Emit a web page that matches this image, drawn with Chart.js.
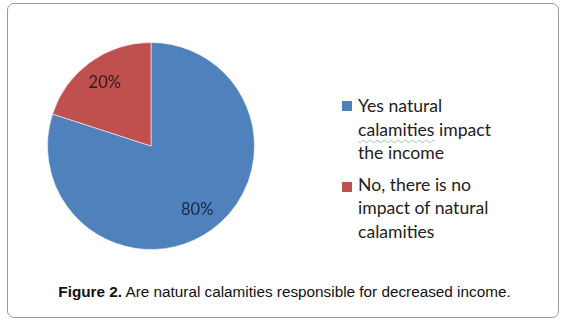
<!DOCTYPE html>
<html>
<head>
<meta charset="utf-8">
<script src="https://cdn.jsdelivr.net/npm/chart.js@4/dist/chart.umd.min.js"></script>
<style>
  html, body { margin: 0; padding: 0; background: #ffffff; }
  body { width: 564px; height: 324px; position: relative; overflow: hidden; }
  #frame { position: absolute; left: 7px; top: 3px; width: 552px; height: 315px;
           border: 1.5px solid #9a9a9a; border-radius: 7px; box-sizing: border-box; }
  #pieWrap { position: absolute; left: 43px; top: 38px; width: 216px; height: 216px; }
  #legend { position: absolute; left: 342px; top: 0; font-family: Lato, "Open Sans", sans-serif;
            font-size: 17.6px; color: #222; }
  .item { position: absolute; left: 0; white-space: nowrap; }
  .sw { position: absolute; left: 0; width: 10px; height: 10px; }
  .txt { position: absolute; left: 16px; line-height: 23.5px; }
  .squig { text-decoration: underline wavy #9cc79c; text-decoration-thickness: 1px; text-underline-offset: 3px; }
  #caption { position: absolute; left: 8px; width: 553px; top: 283px; text-align: center;
             font-family: "Liberation Sans", Arial, sans-serif; font-size: 15.3px; line-height: 17px; color: #111; }
</style>
</head>
<body>
<div id="frame"></div>
<div id="pieWrap"><canvas id="pie" width="216" height="216"></canvas></div>
<div id="legend"></div>
<div id="caption"><b>Figure 2.</b> Are natural calamities responsible for decreased income.</div>
<script>
// ---- data ----
const categories = [
  ["Yes natural", "calamities impact", "the income"],
  ["No, there is no", "impact of natural", "calamities"]
];
const values = [80, 20];
const sliceColors = ["#4f81bd", "#c0504d"];
const labelColors = ["#1b2a44", "#2a1c1c"];
const spellFlag = { item: 0, line: 1, word: "calamities" };

// ---- pie ----
const pctLabels = {
  id: 'pctLabels',
  afterDatasetsDraw(chart) {
    const ctx = chart.ctx;
    const meta = chart.getDatasetMeta(0);
    const total = values.reduce((a, b) => a + b, 0);
    ctx.save();
    ctx.font = '16.5px Lato, "Open Sans", sans-serif';
    ctx.textAlign = 'center';
    ctx.textBaseline = 'middle';
    meta.data.forEach((arc, i) => {
      const p = arc.getProps(['x', 'y', 'startAngle', 'endAngle', 'outerRadius'], true);
      const mid = (p.startAngle + p.endAngle) / 2;
      const r = p.outerRadius * 0.76;
      ctx.fillStyle = labelColors[i];
      ctx.fillText(Math.round(values[i] / total * 100) + '%', p.x + Math.cos(mid) * r, p.y + Math.sin(mid) * r);
    });
    ctx.restore();
  }
};

new Chart(document.getElementById('pie'), {
  type: 'pie',
  data: {
    labels: categories,
    datasets: [{
      data: values,
      backgroundColor: sliceColors,
      borderColor: 'rgba(255,255,255,0.55)',
      borderWidth: 1
    }]
  },
  options: {
    responsive: false,
    animation: false,
    layout: { padding: 4 },
    plugins: { legend: { display: false }, tooltip: { enabled: false } }
  },
  plugins: [pctLabels]
});

// ---- legend (HTML) ----
const legendTops = [94, 172.5];
const swatchTops = [101, 182];
const legend = document.getElementById('legend');
categories.forEach((lines, i) => {
  const item = document.createElement('div');
  item.className = 'item';
  item.style.top = legendTops[i] + 'px';
  const sw = document.createElement('div');
  sw.className = 'sw';
  sw.style.background = sliceColors[i];
  sw.style.top = (swatchTops[i] - legendTops[i]) + 'px';
  const txt = document.createElement('div');
  txt.className = 'txt';
  lines.forEach((ln, j) => {
    const row = document.createElement('div');
    if (i === spellFlag.item && j === spellFlag.line && ln.indexOf(spellFlag.word) === 0) {
      const s = document.createElement('span');
      s.className = 'squig';
      s.textContent = spellFlag.word;
      row.appendChild(s);
      row.appendChild(document.createTextNode(ln.slice(spellFlag.word.length)));
    } else {
      row.textContent = ln;
    }
    txt.appendChild(row);
  });
  item.appendChild(sw);
  item.appendChild(txt);
  legend.appendChild(item);
});
</script>
</body>
</html>
